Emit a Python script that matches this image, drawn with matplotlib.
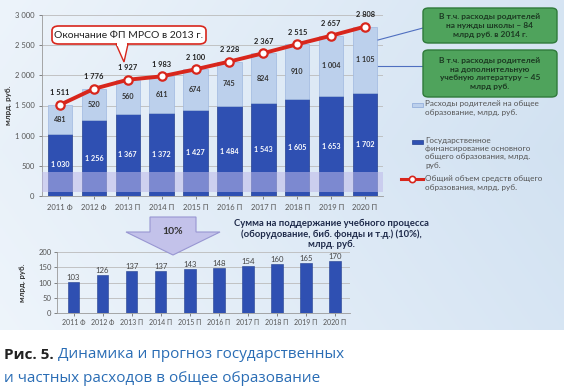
import numpy as np
import matplotlib
matplotlib.use("Agg")
import matplotlib.pyplot as plt
from matplotlib.patches import FancyBboxPatch, Polygon, Rectangle
from matplotlib.lines import Line2D

plt.rcParams['font.family'] = ['Lato', 'DejaVu Sans']

years = ['2011 Ф', '2012 Ф', '2013 П', '2014 П', '2015 П',
         '2016 П', '2017 П', '2018 П', '2019 П', '2020 П']
gov = [1030, 1256, 1367, 1372, 1427, 1484, 1543, 1605, 1653, 1702]
parents = [481, 520, 560, 611, 674, 745, 824, 910, 1004, 1105]
total = [1511, 1776, 1927, 1983, 2100, 2228, 2367, 2515, 2657, 2808]
support = [103, 126, 137, 137, 143, 148, 154, 160, 165, 170]

W, H = 564, 389
fig = plt.figure(figsize=(W / 100, H / 100), dpi=100)


def fx(x):
    return x / W


def fy(y):
    return 1 - y / H


# фон "небо"
bg = fig.add_axes([0, fy(330), 1, 330 / H], zorder=-10)
gx = np.linspace(0, 1, 200)
gy = np.linspace(0, 1, 120)
X, Y = np.meshgrid(gx, gy)
t = np.clip(0.25 + 0.6 * X - 0.25 * np.abs(Y - 0.45), 0, 1)
c1 = np.array([0.95, 0.97, 0.99])
c2 = np.array([0.80, 0.87, 0.94])
img = c1 * (1 - t[..., None]) + c2 * t[..., None]
bg.imshow(img, aspect='auto', extent=[0, 1, 0, 1])
bg.axis('off')

gray = '#555555'

# основной график
ax = fig.add_axes([fx(42), fy(196), fx(383) - fx(42), fy(15) - fy(196)])
ax.patch.set_alpha(0)
x = np.arange(len(years))
ax.bar(x, gov, width=0.72, color='#2f50b2', edgecolor='#24408f', lw=0.5, zorder=3)
ax.bar(x, parents, bottom=gov, width=0.72, color='#bcd0ec',
       edgecolor='#9fb8e0', lw=0.5, zorder=3)
ax.plot(x, total, color='#d8261c', lw=2.8, marker='o', ms=6,
        mfc='white', mec='#d8261c', mew=1.6, zorder=5)
ax.axhspan(60, 400, color='#bdb9ea', alpha=0.55, zorder=4, lw=0)
for i in range(len(years)):
    ax.text(x[i], gov[i] / 2, f'{gov[i]:,}'.replace(',', ' '), color='white',
            ha='center', va='center', fontsize=5.2, fontweight='bold', zorder=6)
    ax.text(x[i], gov[i] + parents[i] / 2, f'{parents[i]:,}'.replace(',', ' '),
            color='#333333', ha='center', va='center', fontsize=5.2,
            fontweight='bold', zorder=6)
    ax.text(x[i], total[i] + 140, f'{total[i]:,}'.replace(',', ' '),
            color='#222222', ha='center', va='bottom', fontsize=5.4,
            fontweight='bold', zorder=6)
ax.set_xlim(-0.53, 9.53)
ax.set_ylim(0, 3000)
ax.set_yticks(range(0, 3001, 500))
ax.set_yticklabels([f'{v:,}'.replace(',', ' ') for v in range(0, 3001, 500)])
ax.set_xticks(x)
ax.set_xticklabels(years)
ax.tick_params(labelsize=5.5, colors=gray, length=2, width=0.5)
ax.yaxis.grid(True, color='#bbbbbb', lw=0.6, zorder=0)
for s in ['top', 'right']:
    ax.spines[s].set_visible(False)
for s in ['left', 'bottom']:
    ax.spines[s].set_color('#999999')
    ax.spines[s].set_linewidth(0.6)
fig.text(fx(9), fy(105), 'млрд. руб.', rotation=90, ha='center', va='center',
         fontsize=5.8, fontweight='bold', color='#333333')

# выноска
box = FancyBboxPatch((fx(52), fy(44)), fx(206) - fx(52), fy(26) - fy(44),
                     boxstyle='round,pad=0,rounding_size=0.012',
                     transform=fig.transFigure, fc='white', ec='#d8261c', lw=1.2,
                     zorder=10)
fig.patches.append(box)
tail = Polygon([(fx(116), fy(44)), (fx(128), fy(44)), (fx(124), fy(62))],
               closed=True, transform=fig.transFigure, fc='white', ec='#d8261c',
               lw=1.0, zorder=11)
fig.patches.append(tail)
fig.patches.append(Rectangle((fx(117), fy(45.5)), fx(10), 2.2 / H,
                             transform=fig.transFigure, fc='white', ec='none',
                             zorder=12))
fig.text(fx(129), fy(35), 'Окончание ФП МРСО в 2013 г.', ha='center', va='center',
         fontsize=7.5, color='#222222', zorder=13)

# зелёные плашки
green_boxes = [
    (8, 43, 'В т.ч. расходы родителей\nна нужды школы – 84\nмлрд руб. в 2014 г.'),
    (50, 97, 'В т.ч. расходы родителей\nна дополнительную\nучебную литературу – 45\nмлрд руб.'),
]
for top, bot, txt in green_boxes:
    p = FancyBboxPatch((fx(423), fy(bot)), fx(557) - fx(423), fy(top) - fy(bot),
                       boxstyle='round,pad=0,rounding_size=0.01',
                       transform=fig.transFigure, fc='#4fa35c', ec='#2f7a3a',
                       lw=1.0, zorder=10)
    fig.patches.append(p)
    fig.text(fx(490), fy((top + bot) / 2), txt, ha='center', va='center',
             fontsize=6.0, fontweight='bold', color='#1c3a22', linespacing=1.25,
             zorder=11)
fig.lines.append(Line2D([fx(423), fx(378)], [fy(28), fy(40)],
                        transform=fig.transFigure, color='#4f6fc0', lw=0.8))
fig.lines.append(Line2D([fx(423), fx(378)], [fy(66), fy(66)],
                        transform=fig.transFigure, color='#4f6fc0', lw=0.8))

# легенда
fig.patches.append(Rectangle((fx(412), fy(107)), fx(11), 4 / H,
                             transform=fig.transFigure, fc='#bcd0ec', ec='#8aa7d8',
                             lw=0.5))
fig.text(fx(425), fy(100), 'Расходы родителей на общее\nобразование, млрд. руб.',
         ha='left', va='top', fontsize=5.9, color=gray, linespacing=1.25)
fig.patches.append(Rectangle((fx(412), fy(144)), fx(11), 4 / H,
                             transform=fig.transFigure, fc='#2f50b2', ec='#24408f',
                             lw=0.5))
fig.text(fx(425), fy(137),
         'Государственное\nфинансирование основного\nобщего образования, млрд.\nруб.',
         ha='left', va='top', fontsize=5.9, color=gray, linespacing=1.2)
fig.lines.append(Line2D([fx(401), fx(423)], [fy(179), fy(179)],
                        transform=fig.transFigure, color='#d8261c', lw=2.2,
                        zorder=5))
fig.lines.append(Line2D([fx(412)], [fy(179)], transform=fig.transFigure,
                        color='#d8261c', marker='o', ms=4.5, mfc='white',
                        mec='#d8261c', mew=1.2, zorder=6))
fig.text(fx(425), fy(175), 'Общий объем средств общего\nобразования, млрд. руб.',
         ha='left', va='top', fontsize=5.9, color=gray, linespacing=1.25)

# стрелка 10%
arrow = Polygon([(fx(150), fy(217)), (fx(196), fy(217)), (fx(196), fy(232)),
                 (fx(220), fy(232)), (fx(173), fy(255)), (fx(126), fy(232)),
                 (fx(150), fy(232))], closed=True, transform=fig.transFigure,
                fc='#c3c2ea', ec='#9896d2', lw=0.8, zorder=5)
fig.patches.append(arrow)
fig.text(fx(173), fy(231), '10%', ha='center', va='center', fontsize=7.5,
         fontweight='bold', color='#333333', zorder=6)

fig.text(fx(331), fy(234),
         'Сумма на поддержание учебного процесса\n(оборудование, биб. фонды и т.д.) (10%),\nмлрд. руб.',
         ha='center', va='center', fontsize=6.8, fontweight='bold',
         color='#1e2a4a', linespacing=1.15)

# нижний график
ax2 = fig.add_axes([fx(57), fy(313), fx(350) - fx(57), fy(252) - fy(313)])
ax2.patch.set_alpha(0)
ax2.bar(x, support, width=0.4, color='#2f50b2', edgecolor='#24408f', lw=0.4,
        zorder=3)
for i in range(len(years)):
    ax2.text(x[i], support[i] + 3, str(support[i]), ha='center', va='bottom',
             fontsize=5.6, color='#444444')
ax2.set_xlim(-0.57, 9.52)
ax2.set_ylim(0, 200)
ax2.set_yticks(range(0, 201, 50))
ax2.set_xticks(x)
ax2.set_xticklabels(years)
ax2.tick_params(labelsize=5.0, colors=gray, length=2, width=0.5, pad=2)
ax2.tick_params(axis='y', labelsize=5.5)
ax2.yaxis.grid(True, color='#bbbbbb', lw=0.6, zorder=0)
for s in ['top', 'right']:
    ax2.spines[s].set_visible(False)
for s in ['left', 'bottom']:
    ax2.spines[s].set_color('#999999')
    ax2.spines[s].set_linewidth(0.6)
fig.text(fx(22), fy(283), 'млрд. руб.', rotation=90, ha='center', va='center',
         fontsize=5.6, fontweight='bold', color='#333333')

# подпись
fig.text(fx(4), fy(355), 'Рис. 5.', ha='left', va='center', fontsize=11,
         fontweight='bold', color='#222222', family=['Open Sans', 'DejaVu Sans'])
fig.text(fx(58), fy(355), 'Динамика и прогноз государственных', ha='left',
         va='center', fontsize=11, color='#2a6db5',
         family=['Open Sans', 'DejaVu Sans'])
fig.text(fx(4), fy(378), 'и частных расходов в общее образование', ha='left',
         va='center', fontsize=11, color='#2a6db5',
         family=['Open Sans', 'DejaVu Sans'])

fig.savefig('out.png', dpi=100)
